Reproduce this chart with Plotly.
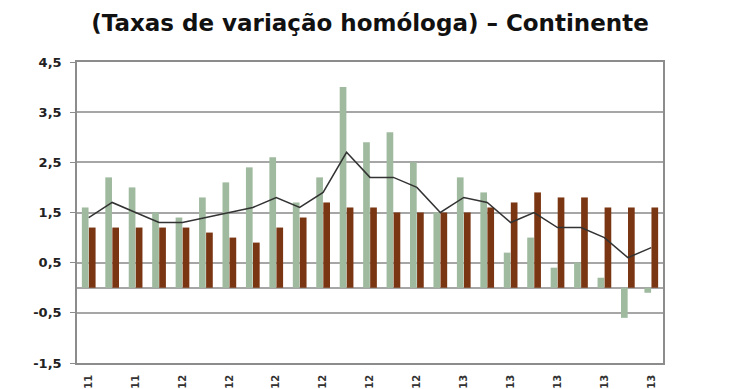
import plotly.graph_objects as go

categories = ["set-11", "out-11", "nov-11", "dez-11", "jan-12", "fev-12", "mar-12", "abr-12",
              "mai-12", "jun-12", "jul-12", "ago-12", "set-12", "out-12", "nov-12", "dez-12",
              "jan-13", "fev-13", "mar-13", "abr-13", "mai-13", "jun-13", "jul-13", "ago-13", "set-13"]
green_values = [1.6, 2.2, 2.0, 1.5, 1.4, 1.8, 2.1, 2.4, 2.6, 1.7, 2.2, 4.0, 2.9, 3.1, 2.5, 1.5,
                2.2, 1.9, 0.7, 1.0, 0.4, 0.5, 0.2, -0.6, -0.1]
brown_values = [1.2, 1.2, 1.2, 1.2, 1.2, 1.1, 1.0, 0.9, 1.2, 1.4, 1.7, 1.6, 1.6, 1.5, 1.5, 1.5,
                1.5, 1.6, 1.7, 1.9, 1.8, 1.8, 1.6, 1.6, 1.6]
line_values = [1.4, 1.7, 1.5, 1.3, 1.3, 1.4, 1.5, 1.6, 1.8, 1.6, 1.9, 2.7, 2.2, 2.2, 2.0, 1.5,
               1.8, 1.7, 1.3, 1.5, 1.2, 1.2, 1.0, 0.6, 0.8]
# visible (cropped) part of the tick labels, every second month
tick_positions = categories[::2]
tick_labels = ["11", "11", "12", "12", "12", "12", "12", "12", "13", "13", "13", "13", "13"]
y_ticks = [-1.5, -0.5, 0.5, 1.5, 2.5, 3.5, 4.5]

fig = go.Figure()
fig.add_trace(go.Bar(x=categories, y=green_values, marker_color="#9fba9f", marker_line_width=0))
fig.add_trace(go.Bar(x=categories, y=brown_values, marker_color="#7a3512", marker_line_width=0))
fig.add_trace(go.Scatter(x=categories, y=line_values, mode="lines",
                         line=dict(color="#333333", width=1.5)))

fig.update_layout(
    width=740, height=389,
    margin=dict(l=77, r=77, t=62, b=26),
    paper_bgcolor="white", plot_bgcolor="white",
    showlegend=False,
    barmode="group", bargap=0.4, bargroupgap=0.05,
    title=dict(text="<b>(Taxas de variação homóloga) – Continente</b>",
               x=0.5, xanchor="center", y=0.94, yanchor="middle",
               font=dict(family="DejaVu Sans, Verdana", size=23, color="#111111")),
    font=dict(family="DejaVu Sans, Verdana", color="#222222"),
)
fig.update_xaxes(
    tickmode="array", tickvals=tick_positions,
    ticktext=["<b>%s</b>" % t for t in tick_labels],
    tickangle=-90, tickfont=dict(size=10, family="DejaVu Sans, Verdana", color="#333333"),
    showline=True, linecolor="#8c8c8c", linewidth=1.5, mirror=True,
    showgrid=False, ticks="", ticklabelstandoff=6, automargin=False,
)
fig.update_yaxes(
    range=[-1.5, 4.5], tickmode="array", tickvals=y_ticks,
    ticktext=["<b>%s</b>" % ("%.1f" % v).replace(".", ",") for v in y_ticks],
    tickfont=dict(size=13, family="DejaVu Sans, Verdana", color="#222222"),
    showline=True, linecolor="#8c8c8c", linewidth=1.5, mirror=True,
    showgrid=True, gridcolor="#a6a6a6", gridwidth=1.5,
    zeroline=True, zerolinecolor="#a6a6a6", zerolinewidth=1.5,
    ticks="outside", ticklen=5, tickcolor="#8c8c8c", ticklabelstandoff=6, automargin=False,
)

fig.write_html("out.html", config={"displayModeBar": False},
               post_script="document.body.style.margin='0';document.body.style.overflow='hidden';")
